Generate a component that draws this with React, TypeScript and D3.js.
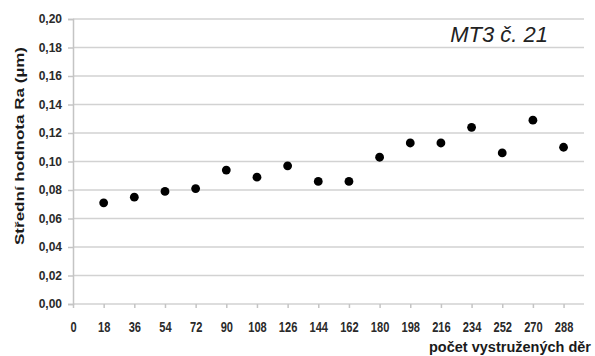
import React, { useEffect, useRef } from 'react'
import * as d3 from 'd3'

// počet vystružených děr
const holes = [18, 36, 54, 72, 90, 108, 126, 144, 162, 180, 198, 216, 234, 252, 270, 288]
// střední hodnota Ra (µm)
const raValues = [0.071, 0.075, 0.079, 0.081, 0.094, 0.089, 0.097, 0.086, 0.086, 0.103, 0.113, 0.113, 0.124, 0.106, 0.129, 0.11]
const xTicks = [0, 18, 36, 54, 72, 90, 108, 126, 144, 162, 180, 198, 216, 234, 252, 270, 288]
const yTicks = [0, 0.02, 0.04, 0.06, 0.08, 0.1, 0.12, 0.14, 0.16, 0.18, 0.2]

const chartTitle = 'MT3 č. 21'
const xTitle = 'počet vystružených děr'
const yTitle = 'Střední hodnota Ra (µm)'

const W = 595
const H = 356

export default function App() {
  const svgRef = useRef<SVGSVGElement>(null)

  useEffect(() => {
    if (!svgRef.current) return
    const svg = d3.select(svgRef.current)
    svg.selectAll('*').remove()

    const left = 73
    const right = 584
    const top = 19
    const bottom = 304

    const x = d3.scaleLinear().domain([0, 300]).range([left, right])
    const y = d3.scaleLinear().domain([0, 0.2]).range([bottom, top])
    const fmt = (v: number) => v.toFixed(2).replace('.', ',')

    // grid lines
    svg.append('g')
      .selectAll('line')
      .data(yTicks)
      .enter()
      .append('line')
      .attr('x1', left)
      .attr('x2', right)
      .attr('y1', (d) => y(d))
      .attr('y2', (d) => y(d))
      .attr('stroke', '#d2d2d2')
      .attr('stroke-width', 1.5)

    // y axis
    const yAxis = svg.append('g')
      .attr('transform', `translate(${left},0)`)
      .call(d3.axisLeft(y).tickValues(yTicks).tickFormat((d) => fmt(Number(d))).tickSize(5).tickPadding(6))
    yAxis.select('.domain').attr('stroke', '#c4c4c4').attr('stroke-width', 1.5)
    yAxis.selectAll('.tick line').attr('stroke', '#c4c4c4').attr('stroke-width', 1.5)
    yAxis.selectAll('.tick text')
      .attr('fill', '#2a2a2a')
      .style('font-family', '"Liberation Sans", Arial, sans-serif')
      .style('font-size', '12px')
      .style('font-weight', 'bold')

    // x axis
    const xAxis = svg.append('g')
      .attr('transform', `translate(0,${bottom})`)
      .call(d3.axisBottom(x).tickValues(xTicks).tickFormat((d) => String(d)).tickSize(4).tickPadding(0))
    xAxis.select('.domain').remove()
    xAxis.selectAll('.tick line').attr('stroke', '#c4c4c4').attr('stroke-width', 1.5)
    xAxis.selectAll('.tick text')
      .attr('fill', '#2a2a2a')
      .attr('y', 28.5)
      .attr('dy', 0)
      .attr('transform', 'scale(0.74,1)')
      .style('font-family', '"Liberation Sans", Arial, sans-serif')
      .style('font-size', '15px')
      .style('font-weight', 'bold')

    // points
    svg.append('g')
      .selectAll('circle')
      .data(holes.map((h, i) => ({ h, v: raValues[i] })))
      .enter()
      .append('circle')
      .attr('cx', (d) => x(d.h))
      .attr('cy', (d) => y(d.v))
      .attr('r', 4.4)
      .attr('fill', '#000')

    // titles
    svg.append('text')
      .attr('x', 548)
      .attr('y', 41.5)
      .attr('text-anchor', 'end')
      .attr('fill', '#222')
      .style('font-family', '"Liberation Sans", Arial, sans-serif')
      .style('font-size', '22px')
      .style('font-style', 'italic')
      .text(chartTitle)

    svg.append('text')
      .attr('x', 591)
      .attr('y', 352)
      .attr('text-anchor', 'end')
      .attr('fill', '#1a1a1a')
      .style('font-family', '"Liberation Sans", Arial, sans-serif')
      .style('font-size', '14.5px')
      .style('font-weight', 'bold')
      .text(xTitle)

    svg.append('text')
      .attr('transform', 'translate(24,146) rotate(-90)')
      .attr('text-anchor', 'middle')
      .attr('fill', '#1a1a1a')
      .attr('textLength', 198)
      .attr('lengthAdjust', 'spacingAndGlyphs')
      .style('font-family', '"Liberation Sans", Arial, sans-serif')
      .style('font-size', '13.5px')
      .style('font-weight', 'bold')
      .text(yTitle)
  }, [])

  return (
    <svg
      ref={svgRef}
      width={W}
      height={H}
      style={{ position: 'absolute', left: 0, top: 0, background: '#fff' }}
    />
  )
}
